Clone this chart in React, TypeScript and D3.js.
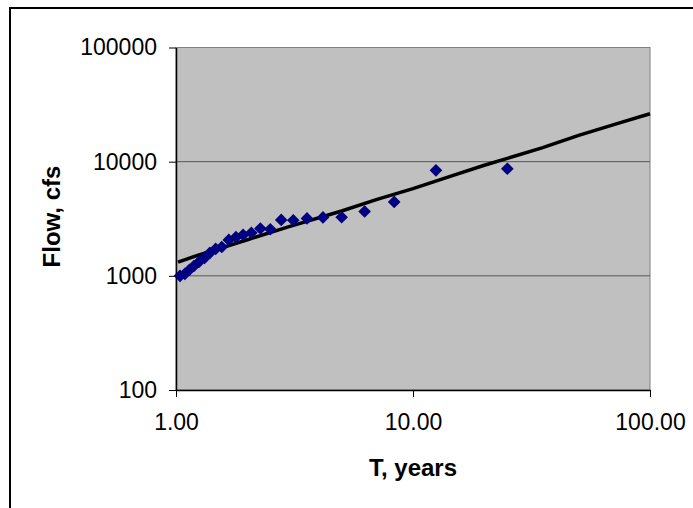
import React, { useEffect, useRef } from 'react';
import * as d3 from 'd3';

// return periods (Weibull plotting positions) and observed peak flows
const periods = [25, 12.5, 8.33, 6.25, 5, 4.17, 3.57, 3.125, 2.78, 2.5, 2.27, 2.08,
  1.92, 1.79, 1.67, 1.56, 1.47, 1.39, 1.32, 1.25, 1.19, 1.14, 1.09, 1.04];
const flows = [8670, 8390, 4440, 3660, 3260, 3250, 3185, 3070, 3090, 2560, 2600, 2380,
  2285, 2180, 2065, 1790, 1720, 1590, 1435, 1325, 1220, 1130, 1040, 1000];

// fitted frequency curve
const fitPeriods = [1.02, 1.25, 1.5, 2, 3, 5, 7, 10, 15, 20, 25, 35, 50, 75, 100];
const fitFlows = [1320, 1527, 1715, 2070, 2700, 3700, 4650, 5800, 7650, 9300, 10700, 13200, 17000, 22000, 26300];

const yTicks = [100, 1000, 10000, 100000];
const xTicks = [1, 10, 100];

function App() {
  const ref = useRef(null);

  useEffect(function () {
    const svg = d3.select(ref.current);
    svg.selectAll('*').remove();

    const left = 176, right = 650, top = 47.5, bottom = 390;
    const x = d3.scaleLog().domain([1, 100]).range([left, right]);
    const y = d3.scaleLog().domain([100, 100000]).range([bottom, top]);

    // outer chart border
    svg.append('rect')
      .attr('x', 10).attr('y', 8)
      .attr('width', 720).attr('height', 540)
      .attr('fill', 'white')
      .attr('stroke', 'black').attr('stroke-width', 2);

    // plot area
    svg.append('rect')
      .attr('x', left).attr('y', top)
      .attr('width', right - left).attr('height', bottom - top)
      .attr('fill', '#c0c0c0')
      .attr('stroke', '#808080').attr('stroke-width', 1);

    // gridlines
    svg.append('g')
      .selectAll('line')
      .data(yTicks.slice(1, 3))
      .join('line')
        .attr('x1', left).attr('x2', right)
        .attr('y1', d => y(d)).attr('y2', d => y(d))
        .attr('stroke', '#555').attr('stroke-width', 1);

    // axes
    const yAxis = svg.append('g')
      .attr('transform', 'translate(' + left + ',0)')
      .call(d3.axisLeft(y).tickValues(yTicks).tickFormat(d => String(d)).tickSize(7).tickPadding(12).tickSizeOuter(0));
    const xAxis = svg.append('g')
      .attr('transform', 'translate(0,' + bottom + ')')
      .call(d3.axisBottom(x).tickValues(xTicks).tickFormat(d3.format('.2f')).tickSize(7).tickPadding(17).tickSizeOuter(0));

    [yAxis, xAxis].forEach(function (a) {
      a.select('.domain').attr('stroke', 'black').attr('stroke-width', 1.5);
      a.selectAll('line').attr('stroke', 'black');
      a.selectAll('text')
        .attr('fill', 'black')
        .style('font-family', '"Liberation Sans", Arial, sans-serif')
        .style('font-size', '23px');
    });

    // fitted curve
    const line = d3.line()
      .x((d, i) => x(fitPeriods[i]))
      .y(d => y(d));
    svg.append('path')
      .datum(fitFlows)
      .attr('d', line)
      .attr('fill', 'none')
      .attr('stroke', 'black')
      .attr('stroke-width', 3.5);

    // observed points (diamonds)
    const diamond = d3.symbol().type(d3.symbolSquare).size(80);
    svg.append('g')
      .attr('fill', '#000080')
      .selectAll('path')
      .data(flows)
      .join('path')
        .attr('d', diamond)
        .attr('transform', (d, i) => 'translate(' + x(periods[i]) + ',' + y(d) + ') rotate(45)');

    // axis titles
    svg.append('text')
      .attr('x', (left + right) / 2)
      .attr('y', 476)
      .attr('text-anchor', 'middle')
      .style('font-family', '"Liberation Sans", Arial, sans-serif')
      .style('font-size', '24px')
      .style('font-weight', 'bold')
      .text('T, years');
    svg.append('text')
      .attr('transform', 'translate(60,216.5) rotate(-90)')
      .attr('text-anchor', 'middle')
      .style('font-family', '"Liberation Sans", Arial, sans-serif')
      .style('font-size', '24px')
      .style('font-weight', 'bold')
      .text('Flow, cfs');
  });

  return (
    <svg ref={ref} width={693} height={508}
      style={{ position: 'absolute', left: 0, top: 0, background: 'white' }}></svg>
  );
}

export default App;
